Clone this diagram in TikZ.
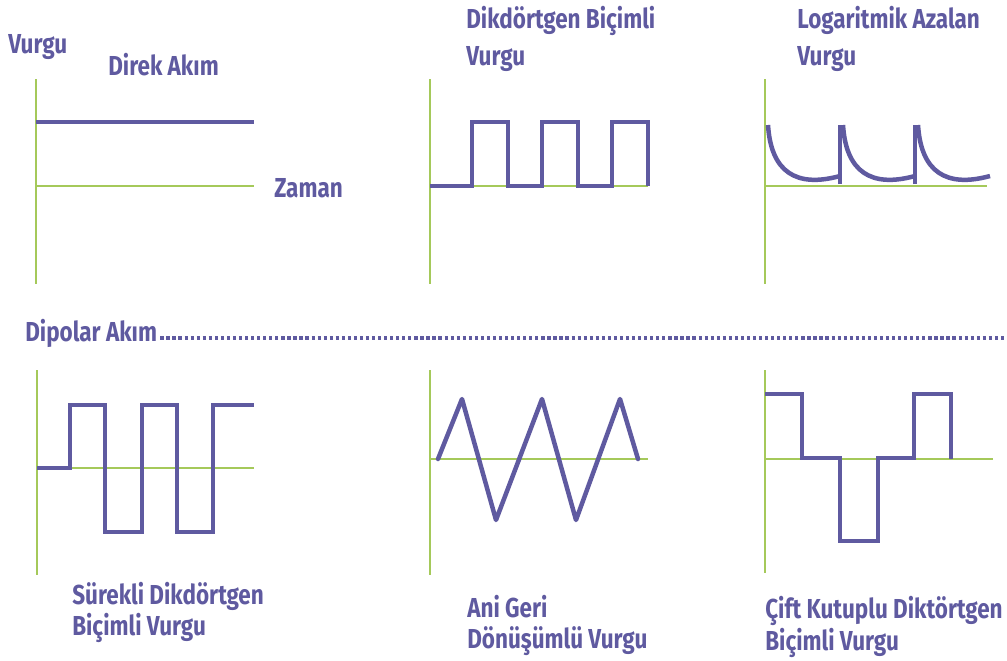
\documentclass[tikz,border=0pt]{standalone}
\usepackage{fontspec}
\newfontfamily\lblfont{Fira Sans}[FakeStretch=0.82]
\usetikzlibrary{positioning}
\definecolor{vurgu}{HTML}{5F5AA0}
\definecolor{eksen}{HTML}{A5C95A}

\begin{document}
\begin{tikzpicture}[x=0.025cm, y=-0.025cm, line join=miter,
    axis/.style={draw=eksen, line width=1.8pt},
    wave/.style={draw=vurgu, line width=3.2pt},
    dots/.style={draw=vurgu, line width=2.2pt, dash pattern=on 2.3pt off 2pt},
    lbl/.style={anchor=base west, inner sep=0pt, text=vurgu,
        font=\lblfont\bfseries\fontsize{19.5}{23}\selectfont}]
    \useasboundingbox (0,0) rectangle (1007,660);

    % ust sira: direk akim
    \draw[axis] (36,79) -- (36,284);
    \draw[axis] (36,186) -- (254,186);
    \draw[wave] (36,122) -- (254,122);
    \node[lbl] (vurgu) at (8,53) {Vurgu};
    \node[lbl] (direk) at (108,75) {Direk Akım};
    \node[lbl] (zaman) at (274,197) {Zaman};

    % dikdortgen bicimli
    \draw[axis] (430,79) -- (430,284);
    \draw[axis] (430,186) -- (648,186);
    \draw[wave] (430,186) -- (472,186) -- (472,122) -- (508,122) -- (508,186)
        -- (542,186) -- (542,122) -- (578,122) -- (578,186)
        -- (612,186) -- (612,122) -- (648,122) -- (648,186);
    \node[lbl] (dik1) at (466,28) {Dikdörtgen Biçimli};
    \node[lbl] (dik2) at (466,65) {Vurgu};

    % logaritmik azalan
    \draw[axis] (765,79) -- (765,284);
    \draw[axis] (765,186) -- (987,186);
    \foreach \x in {0,75,150}
        \draw[wave] (768+\x,125) .. controls (771+\x,172) and (796+\x,188) .. (840+\x,176);
    \draw[wave] (840,184) -- (840,125);
    \draw[wave] (915,184) -- (915,125);
    \node[lbl] (log1) at (797,28) {Logaritmik Azalan};
    \node[lbl] (log2) at (797,65) {Vurgu};

    % ayirici
    \node[lbl] (dipol) at (25,341) {Dipolar Akım};
    \coordinate (dotend) at (1007,338);
    \draw[dots] (dipol.base east) ++(3,-3) -- (dotend);

    % surekli dikdortgen
    \draw[axis] (37,370) -- (37,575);
    \draw[axis] (37,468) -- (254,468);
    \draw[wave] (37,468) -- (70,468) -- (70,405) -- (105,405) -- (105,532)
        -- (142,532) -- (142,405) -- (177,405) -- (177,532)
        -- (213,532) -- (213,405) -- (254,405);
    \node[lbl] (sur1) at (72,604) {Sürekli Dikdörtgen};
    \node[lbl] (sur2) at (72,635) {Biçimli Vurgu};

    % ani geri donusumlu
    \draw[axis] (430,370) -- (430,575);
    \draw[axis] (430,459) -- (648,459);
    \draw[wave, line join=round, line cap=round] (438,459) -- (462,399) -- (496,520)
        -- (542,399) -- (576,520) -- (620,399) -- (638,459);
    \node[lbl] (ani1) at (467,617) {Ani Geri};
    \node[lbl] (ani2) at (467,648) {Dönüşümlü Vurgu};

    % cift kutuplu
    \draw[axis] (765,370) -- (765,573);
    \draw[axis] (765,459) -- (993,459);
    \draw[wave] (765,394) -- (802,394) -- (802,458) -- (840,458) -- (840,541)
        -- (878,541) -- (878,458) -- (914,458) -- (914,394) -- (951,394) -- (951,459);
    \node[lbl] (cift1) at (765,618) {Çift Kutuplu Diktörtgen};
    \node[lbl] (cift2) at (765,650) {Biçimli Vurgu};
\end{tikzpicture}
\end{document}
